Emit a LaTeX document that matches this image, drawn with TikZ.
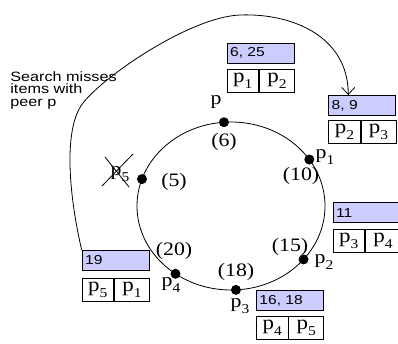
\documentclass[tikz,border=0pt]{standalone}
\usepackage{fontspec}
\newfontfamily\labelserif[FakeStretch=1.15]{Liberation Serif}
\newfontfamily\labelsans[FakeStretch=1.2]{Liberation Sans}
\usetikzlibrary{arrows.meta, positioning}

\definecolor{keyblue}{RGB}{204,204,255}
\newcommand{\peer}[1]{p\raisebox{-6pt}{\fontsize{13.5}{13.5}\selectfont #1}}

\begin{document}
\begin{tikzpicture}[
	x=1pt, y=-1pt,
	line width=0.8pt,
	dot/.style={circle, fill=black, inner sep=0pt, minimum size=10pt},
	lab/.style={font=\labelserif\fontsize{19}{19}\selectfont, inner sep=0pt},
	note/.style={font=\labelsans\fontsize{13.5}{12.5}\selectfont, align=left, anchor=north west, inner sep=0pt},
	keybox/.style={draw, fill=keyblue, anchor=north west, minimum width=67pt, minimum height=20pt,
		text width=61pt, inner xsep=3pt, inner ysep=0pt, align=left, font=\labelsans\fontsize{13}{13}\selectfont},
	lcell/.style={draw, minimum width=31.5pt, minimum height=23pt, inner sep=0pt, font=\labelserif\fontsize{20}{20}\selectfont},
	rcell/.style={lcell, minimum width=35pt}
]

\useasboundingbox (0,0) rectangle (398,343);

% ring of peers
\coordinate (ring) at (231,206);
\draw (ring) ellipse [x radius=94, y radius=84];

\foreach \n/\a in {p/-94.3, p1/-33.6, p5/-161.3, p2/39.5, p3/87, p4/126.2} {
	\node[dot] (\n) at ([shift={(\a:94 and 84)}]ring) {};
}

\node[lab] (lp) at (216,102) {p};
\node[lab] (l6) at (224,141.5) {(6)};
\node[lab] (lp1) at (325,157) {\peer{1}};
\node[lab] (l10) at (301,176) {(10)};
\node[lab] (lp2) at (324,262) {\peer{2}};
\node[lab] (l15) at (290,247) {(15)};
\node[lab] (lp3) at (240,306) {\peer{3}};
\node[lab] (l18) at (236,272) {(18)};
\node[lab] (lp4) at (171,285) {\peer{4}};
\node[lab] (l20) at (174,251) {(20)};
\node[lab] (lp5) at (120,174) {\peer{5}};
\node[lab] (l5) at (174,182) {(5)};

% p5 has left
\draw ([shift={(-15,-17)}]lp5.center) -- ([shift={(9,13)}]lp5.center);
\draw ([shift={(13,-20)}]lp5.center) -- ([shift={(-18,12)}]lp5.center);

% key ranges and routing entries
\node[keybox] (k625) at (226.7,42.5) {6, 25};
\node[lcell, anchor=north west] (c625a) at ([yshift=-6pt]k625.south west) {\peer{1}};
\node[rcell, right=0pt of c625a] (c625b) {\peer{2}};

\node[keybox] (k89) at (328.3,95) {8, 9};
\node[lcell, anchor=north west] (c89a) at ([yshift=-4pt]k89.south west) {\peer{2}};
\node[rcell, right=0pt of c89a] (c89b) {\peer{3}};

\node[keybox] (k11) at (332.7,202.3) {11};
\node[lcell, anchor=north west] (c11a) at ([yshift=-6pt]k11.south west) {\peer{3}};
\node[rcell, right=0pt of c11a] (c11b) {\peer{4}};

\node[keybox] (k1618) at (256,290) {16, 18};
\node[lcell, anchor=north west] (c1618a) at ([yshift=-5pt]k1618.south west) {\peer{4}};
\node[rcell, right=0pt of c1618a] (c1618b) {\peer{5}};

\node[keybox] (k19) at (81.7,250) {19};
\node[lcell, anchor=north west] (c19a) at ([yshift=-7pt]k19.south west) {\peer{5}};
\node[rcell, right=0pt of c19a] (c19b) {\peer{1}};

% search path
\node[note] (miss) at (10,71) {Search misses\\items with\\peer p};

\draw[-{Straight Barb[length=7pt, width=13pt]}]
	(k19.north west) .. controls (70,200) and (62,130) .. (83,103)
	.. controls (104,76) and (190,17) .. (240,15)
	.. controls (290,13) and (348,35) .. ([xshift=20pt]k89.north west);

\end{tikzpicture}
\end{document}
